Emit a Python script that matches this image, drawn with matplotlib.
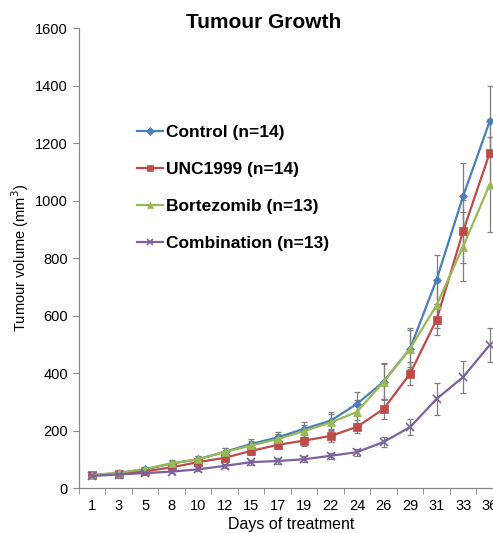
import matplotlib
matplotlib.use("Agg")
import matplotlib.pyplot as plt
import numpy as np

plt.rcParams['font.family'] = ['Liberation Sans', 'DejaVu Sans']

days = ["1", "3", "5", "8", "10", "12", "15", "17", "19", "22", "24", "26", "29", "31", "33", "36"]

control = [45, 52, 65, 85, 100, 126, 153, 176, 206, 234, 293, 370, 485, 725, 1015, 1275]
control_err = [5, 6, 8, 10, 12, 14, 16, 18, 22, 30, 42, 65, 70, 85, 115, 125]

unc1999 = [44, 50, 58, 72, 90, 105, 129, 150, 165, 181, 213, 275, 398, 586, 893, 1165]
unc1999_err = [5, 5, 7, 8, 10, 12, 14, 16, 18, 20, 22, 35, 40, 55, 110, 120]

bortezomib = [45, 53, 66, 86, 100, 125, 148, 170, 198, 228, 265, 370, 485, 636, 840, 1055]
bortezomib_err = [5, 6, 8, 10, 12, 14, 16, 18, 20, 28, 40, 60, 65, 80, 120, 165]

combination = [42, 47, 52, 57, 65, 77, 90, 94, 100, 112, 125, 160, 212, 310, 386, 497]
combination_err = [4, 5, 5, 6, 7, 8, 9, 9, 10, 10, 12, 18, 28, 55, 55, 58]

series = [
    ("Control (n=14)", control, control_err, "#4A7EBB", "D", 4.5),
    ("UNC1999 (n=14)", unc1999, unc1999_err, "#BE4B48", "s", 5.5),
    ("Bortezomib (n=13)", bortezomib, bortezomib_err, "#98B954", "^", 5.5),
    ("Combination (n=13)", combination, combination_err, "#7D60A0", "x", 5.5),
]

fig = plt.figure(figsize=(4.93, 5.33), dpi=100)
ax = fig.add_axes([0.160, 0.0844, 0.860, 0.863])

x = np.arange(len(days))
for label, vals, err, color, marker, ms in series:
    ax.errorbar(x, vals, yerr=err, fmt='none', ecolor='#7f7f7f', elinewidth=0.9,
                capsize=2.5, capthick=0.9, zorder=1)
    ax.plot(x, vals, color=color, marker=marker, markersize=ms, linewidth=1.6,
            markeredgewidth=1.2 if marker == 'x' else 0.5, label=label, zorder=2)

ax.set_xlim(-0.5, len(days) - 0.5)
ax.set_ylim(0, 1600)
ax.set_yticks(np.arange(0, 1601, 200))
ax.set_xticks(x)
ax.set_xticklabels(days)
ax.set_xticks(np.arange(-0.5, len(days), 1), minor=True)
ax.tick_params(axis='x', which='major', length=0, pad=8, labelsize=10.5)
ax.tick_params(axis='x', which='minor', length=4, color='#888888', direction='out')
ax.tick_params(axis='y', length=4, color='#888888', labelsize=10.5, pad=4)

for s in ['top', 'right']:
    ax.spines[s].set_visible(False)
for s in ['left', 'bottom']:
    ax.spines[s].set_color('#888888')
    ax.spines[s].set_linewidth(0.9)

ax.set_ylabel("Tumour volume (mm$^3$)", fontsize=10.5, labelpad=3)
ax.set_xlabel("Days of treatment", fontsize=11.5, labelpad=3)

fig.text(0.535, 0.957, "Tumour Growth", ha='center', va='center', fontsize=15, fontweight='bold')

leg = ax.legend(loc='upper left', bbox_to_anchor=(0.264, 0.779), bbox_transform=fig.transFigure,
                frameon=False, prop={'weight': 'bold', 'size': 12.5}, handlelength=1.5,
                handletextpad=0.15, labelspacing=1.27, borderaxespad=0, markerscale=0.8)

fig.savefig("out.png", dpi=100)
